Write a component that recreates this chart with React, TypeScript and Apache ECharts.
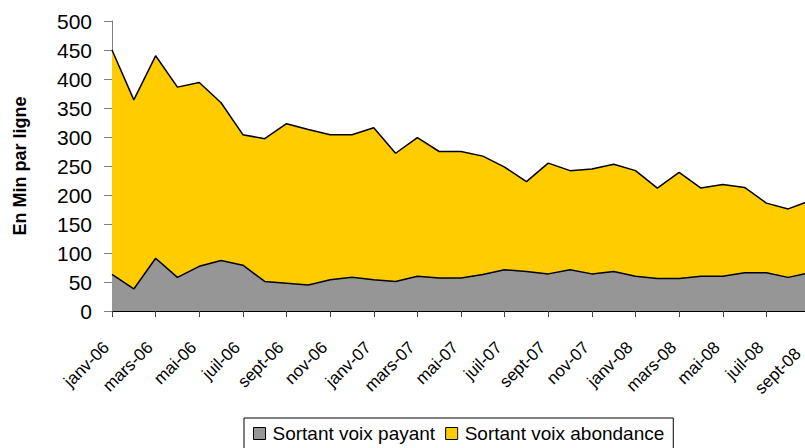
import React, { useEffect, useRef } from "react";
import * as echarts from "echarts";

const months = [
  "janv-06", "févr-06", "mars-06", "avr-06", "mai-06", "juin-06", "juil-06", "août-06",
  "sept-06", "oct-06", "nov-06", "déc-06",
  "janv-07", "févr-07", "mars-07", "avr-07", "mai-07", "juin-07", "juil-07", "août-07",
  "sept-07", "oct-07", "nov-07", "déc-07",
  "janv-08", "févr-08", "mars-08", "avr-08", "mai-08", "juin-08", "juil-08", "août-08",
  "sept-08",
];

const payant = [
  63, 38, 91, 58, 77, 87, 79, 51, 48, 45, 54, 58,
  54, 51, 60, 57, 57, 63, 71, 68, 64, 71, 64, 68,
  60, 56, 56, 60, 60, 66, 66, 58, 66,
];

const abondance = [
  387, 326, 349, 328, 317, 272, 225, 246, 275, 268, 250, 246,
  262, 221, 239, 218, 218, 204, 177, 155, 191, 171, 181, 185,
  182, 156, 183, 152, 158, 147, 120, 118, 124,
];

const yTicks = { min: 0, max: 500, interval: 50 };

const FONT = "'Liberation Sans', Arial, sans-serif";

export default function App() {
  const ref = useRef<HTMLDivElement>(null);
  useEffect(() => {
    if (!ref.current) return;
    const chart = echarts.init(ref.current, undefined, { renderer: "svg" });
    const lastIdx = months.length - 1;
    chart.setOption({
      animation: false,
      backgroundColor: "#ffffff",
      textStyle: { fontFamily: FONT, color: "#000" },
      grid: {
        left: 112,
        right: -5,
        top: 21,
        bottom: 137,
        containLabel: false,
        outerBoundsMode: "none",
      },
      legend: {
        left: 244,
        top: 418,
        icon: "rect",
        itemWidth: 12,
        itemHeight: 12,
        itemGap: 10,
        padding: [6, 9, 8, 9],
        borderColor: "#000",
        borderWidth: 1,
        textStyle: { fontFamily: FONT, fontSize: 19, color: "#000", padding: [0, 0, 0, 2] },
        itemStyle: { borderColor: "#000", borderWidth: 1 },
        data: ["Sortant voix payant", "Sortant voix abondance"],
      },
      xAxis: {
        type: "category",
        data: months,
        boundaryGap: false,
        axisLine: { show: true, lineStyle: { color: "#000", width: 1 } },
        axisTick: { show: true, interval: 1, length: 6, lineStyle: { color: "#404040" } },
        axisLabel: {
          interval: 1,
          rotate: 45,
          margin: 28,
          padding: [0, 8, 0, 0],
          fontSize: 17,
          fontFamily: FONT,
          color: "#000",
          formatter: (value: string, index: number) =>
            index === lastIdx ? `{l|${value}}` : `{n|${value}}`,
          rich: {
            n: { fontSize: 17, fontFamily: FONT, color: "#000" },
            l: { fontSize: 17, fontFamily: FONT, color: "#000", padding: [0, 9, 0, 0] },
          },
        },
        splitLine: { show: false },
      },
      yAxis: {
        type: "value",
        min: yTicks.min,
        max: yTicks.max,
        interval: yTicks.interval,
        name: "En Min par ligne",
        nameLocation: "middle",
        nameGap: 83,
        nameTextStyle: { fontFamily: FONT, fontSize: 18, fontWeight: "bold", color: "#000" },
        axisLine: { show: true, lineStyle: { color: "#808080", width: 1 } },
        axisTick: { show: true, length: 8, lineStyle: { color: "#808080" } },
        axisLabel: { fontSize: 21, fontFamily: FONT, color: "#000", margin: 20 },
        splitLine: { show: false },
      },
      series: [
        {
          name: "Sortant voix payant",
          type: "line",
          stack: "total",
          data: payant,
          showSymbol: false,
          symbol: "none",
          color: "#969696",
          lineStyle: { color: "#000", width: 1.5 },
          areaStyle: { color: "#969696", opacity: 1 },
          z: 3,
        },
        {
          name: "Sortant voix abondance",
          type: "line",
          stack: "total",
          data: abondance,
          showSymbol: false,
          symbol: "none",
          color: "#FFCC00",
          lineStyle: { color: "#000", width: 1.5 },
          areaStyle: { color: "#FFCC00", opacity: 1 },
          z: 2,
        },
      ],
    });
    return () => chart.dispose();
  }, []);
  return <div ref={ref} style={{ width: 805, height: 448, position: "absolute", left: 0, top: 0 }} />;
}
